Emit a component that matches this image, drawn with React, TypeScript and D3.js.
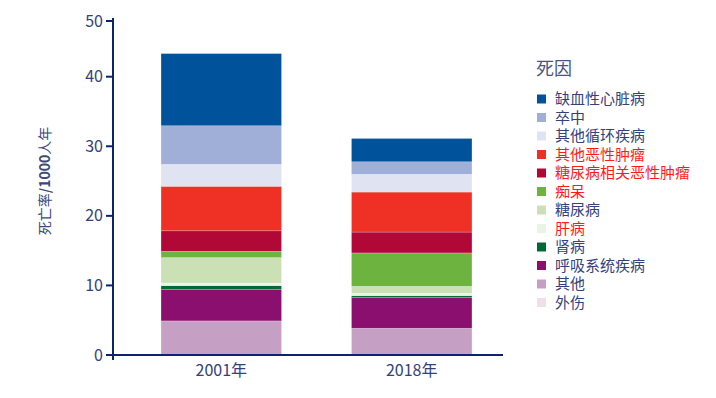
import React from 'react';
import * as d3 from 'd3';

// data (deaths per 1000 person-years)
const years = ['2001年', '2018年'];
const causes = [
  '缺血性心脏病', '卒中', '其他循环疾病', '其他恶性肿瘤', '糖尿病相关恶性肿瘤',
  '痴呆', '糖尿病', '肝病', '肾病', '呼吸系统疾病', '其他', '外伤',
];
const colors = [
  '#00529b', '#a0afd7', '#dfe3f2', '#ee3124', '#b10837',
  '#6db33f', '#cbe0b4', '#eaf4e4', '#006a36', '#8a0f6e', '#c5a0c4', '#efdfe9',
];
const redLabels = ['其他恶性肿瘤', '糖尿病相关恶性肿瘤', '痴呆', '肝病'];
const values2001 = [11.2, 5.55, 3.15, 6.4, 2.95, 0.9, 3.65, 0.38, 0.57, 4.5, 4.9, 0];
const values2018 = [3.35, 1.8, 2.55, 5.75, 3.0, 4.8, 1.0, 0.34, 0.23, 4.45, 3.85, 0];
const yTicks = [0, 10, 20, 30, 40, 50];

const W = 716;
const H = 398;
const FONT = '"Noto Sans CJK SC", "Noto Sans", sans-serif';
const NAVY = '#0f2468';
const TEXT = '#33427a';

export default function App() {
  const rows = years.map((year, i) => {
    const vals = i === 0 ? values2001 : values2018;
    const r: Record<string, any> = { year };
    causes.forEach((c, j) => (r[c] = vals[j]));
    return r;
  });

  // stack from the bottom of the legend upwards
  const stackKeys = causes.slice().reverse();
  const series = d3.stack().keys(stackKeys)(rows as any);

  const x = d3.scaleBand().domain(years).range([142, 491]).paddingInner(0.3675).paddingOuter(0.1);
  // the original axis squeezes the top interval, so the scale is piecewise
  const y = d3.scaleLinear().domain([0, 40, 50]).range([355, 76.7, 21]);

  const axisX = 113;
  const legendX = 537;
  const legendY = 99;
  const rowH = 18.5;

  return (
    <svg width={W} height={H} style={{ position: 'absolute', left: 0, top: 0, background: '#fff' }} fontFamily={FONT}>
      {series.map((s) => {
        const color = colors[causes.indexOf(s.key)];
        return (
          <g key={s.key} fill={color}>
            {s.map((d, i) => (
              <rect
                key={i}
                x={x(years[i])}
                width={x.bandwidth()}
                y={y(d[1])}
                height={Math.max(0, y(d[0]) - y(d[1]))}
                stroke="#ffffff"
                strokeOpacity={0.35}
                strokeWidth={0.6}
              />
            ))}
          </g>
        );
      })}

      {/* y axis */}
      <line x1={axisX} x2={axisX} y1={18} y2={360} stroke={NAVY} strokeWidth={2} />
      {yTicks.map((t) => (
        <g key={t} transform={`translate(0,${y(t)})`}>
          <line x1={axisX - 7} x2={axisX} stroke={NAVY} strokeWidth={2} />
          <text x={axisX - 10} dy="0.35em" textAnchor="end" fontSize={16} fill={TEXT}>{t}</text>
        </g>
      ))}

      {/* x axis */}
      <line x1={axisX} x2={503} y1={y(0)} y2={y(0)} stroke={NAVY} strokeWidth={2} />
      {years.map((yr) => (
        <text key={yr} x={(x(yr) as number) + x.bandwidth() / 2} y={376} textAnchor="middle" fontSize={16} fill={TEXT}>{yr}</text>
      ))}

      {/* y title */}
      <text transform="translate(50,181) rotate(-90)" textAnchor="middle" fontSize={14} fill="#3d4a7a">
        死亡率<tspan fontWeight="bold">/1000</tspan>人年
      </text>

      {/* legend */}
      <text x={legendX - 1} y={legendY - 30} dy="0.35em" fontSize={18} fill="#4a5580">死因</text>
      {causes.map((c, i) => (
        <g key={c} transform={`translate(${legendX},${legendY + i * rowH})`}>
          <rect x={0} y={-4.5} width={9} height={9} fill={colors[i]} />
          <text x={18} dy="0.35em" fontSize={15} fill={redLabels.includes(c) ? '#ff1a1a' : TEXT}>{c}</text>
        </g>
      ))}
    </svg>
  );
}
